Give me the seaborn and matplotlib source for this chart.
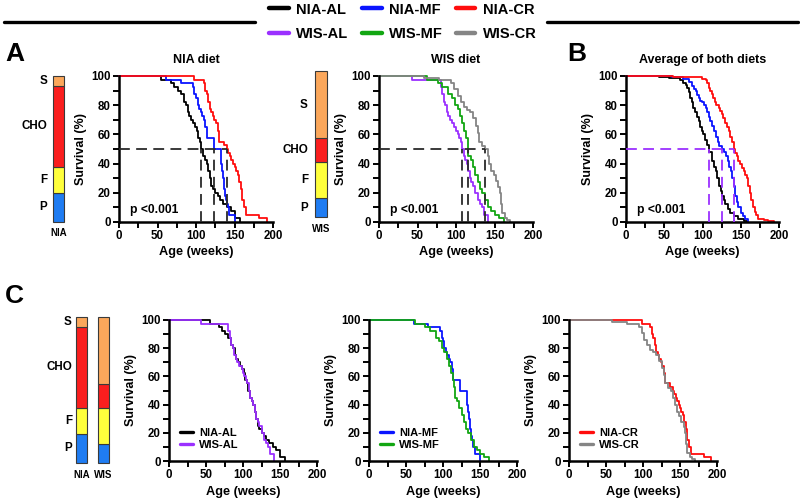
import matplotlib
matplotlib.use("Agg")
import matplotlib.pyplot as plt
import matplotlib.transforms as mtransforms
import numpy as np
import seaborn as sns
from matplotlib.lines import Line2D

# Kaplan-Meier steps: age (weeks) and survival (%)
nia_al_age = [0, 55, 68, 72, 76, 80, 84, 87, 89, 91, 93, 96, 99, 101, 103, 105, 107, 109,
              112, 114, 116, 118, 120, 122, 125, 128, 131, 135, 140, 145, 150, 157]
nia_al_surv = [100, 97.5, 95, 92.5, 90, 87.5, 82.5, 80, 75, 72.5, 70, 67.5, 65, 62.5, 57.5,
               55, 50, 45, 42.5, 40, 35, 30, 25, 22.5, 20, 17.5, 15, 12.5, 10, 7.5, 2.5, 0]

nia_mf_age = [0, 61, 80, 96, 98, 100, 102, 104, 106, 108, 110, 112, 114, 123, 133, 134, 135,
              136, 137, 138, 139, 140, 141, 143, 150]
nia_mf_surv = [100, 97.5, 95, 92.5, 87.5, 85, 80, 77.5, 75, 72.5, 70, 65, 57.5, 50, 40, 35,
               30, 25, 22.5, 17.5, 15, 12.5, 10, 5, 0]

nia_cr_age = [0, 98, 110, 112, 114, 116, 118, 120, 122, 124, 126, 128, 130, 136, 140, 142,
              144, 146, 148, 150, 152, 154, 156, 158, 160, 162, 165, 182, 192]
nia_cr_surv = [100, 97.5, 95, 90, 87.5, 82.5, 77.5, 75, 72.5, 70, 67.5, 62.5, 55, 52.5, 50,
               47.5, 45, 42.5, 40, 37.5, 35, 32.5, 27.5, 22.5, 15, 10, 5, 2.5, 0]

wis_al_age = [0, 43, 80, 82, 84, 86, 88, 90, 92, 95, 98, 100, 102, 104, 106, 108, 110, 112,
              114, 116, 118, 120, 122, 125, 128, 131, 134, 137, 142]
wis_al_surv = [100, 97.5, 92.5, 87.5, 82.5, 80, 75, 72.5, 70, 67.5, 65, 62.5, 60, 57.5, 55,
               50, 45, 42.5, 40, 35, 30, 27.5, 25, 20, 15, 12.5, 10, 5, 0]

wis_mf_age = [0, 62, 76, 82, 90, 95, 99, 102, 105, 108, 111, 113, 115, 116, 119, 122, 125,
              128, 131, 134, 138, 142, 146, 150, 156, 162]
wis_mf_surv = [100, 97.5, 95, 92.5, 87.5, 85, 80, 77.5, 72.5, 67.5, 62.5, 57.5, 52.5, 45,
               42.5, 37.5, 32.5, 27.5, 22.5, 20, 15, 10, 7.5, 5, 2.5, 0]

wis_cr_age = [0, 58, 78, 94, 98, 102, 106, 110, 114, 118, 122, 126, 128, 130, 134, 138, 141,
              143, 146, 149, 152, 155, 157, 158, 160, 163, 166, 170]
wis_cr_surv = [100, 98.5, 97, 95, 91, 86, 82, 79, 77, 75, 71, 66, 61, 55, 52, 50, 45, 40, 35,
               32, 28, 24, 20, 12, 6, 3, 1.5, 0]

# both diets pooled (panel B)
avg_al_age = [0, 43, 56, 71, 75, 78, 80, 82, 84, 86, 88, 90, 93, 95, 97, 99, 101, 103, 106,
              109, 112, 115, 117, 119, 121, 124, 126, 128, 130, 133, 136, 141, 147, 154, 158]
avg_al_surv = [100, 99, 98.5, 97, 95, 93.5, 92, 89, 85, 82, 78, 75, 72, 69, 65, 62.5, 60, 56,
               53, 48, 42, 38, 35, 30, 25, 21, 18, 15, 12, 9, 6, 4, 2, 1, 0]

avg_mf_age = [0, 60, 75, 82, 86, 89, 91, 93, 95, 97, 99, 102, 104, 106, 108, 110, 112, 115,
              117, 120, 122, 125, 128, 131, 133, 135, 137, 139, 141, 143, 145, 147, 150, 153,
              156, 160]
avg_mf_surv = [100, 99, 98, 96, 93, 91, 90, 87, 85, 83, 82, 80, 78, 75, 72, 69, 66, 62, 58,
               55, 52, 50, 48, 45, 42, 38, 35, 30, 25, 18, 14, 10, 6, 4, 2, 0]

avg_cr_age = [0, 62, 82, 99, 104, 106, 108, 110, 112, 114, 116, 118, 121, 123, 125, 127, 130,
              132, 134, 136, 138, 141, 143, 145, 147, 149, 151, 154, 156, 158, 160, 162, 164,
              166, 168, 170, 173, 180, 186, 193]
avg_cr_surv = [100, 99.5, 99, 98, 97, 95, 92, 90, 88, 85, 82, 80, 78, 76, 74, 71, 68, 65, 62,
               58, 55, 50, 47, 45, 42, 40, 37, 35, 32, 30, 25, 20, 15, 10, 7, 5, 2, 1.5, 1, 0]

# diet composition (% of content): protein, fat, carbohydrate, sucrose
macro_names = ["P", "F", "CHO", "S"]
nia_comp = [20, 18, 55, 7]
wis_comp = [13, 25, 16, 46]

macro_colors = ["#1f7cf2", "#ffff3c", "#fa1e1e", "#fba75b"]
col = {"NIA-AL": "#000000", "NIA-MF": "#0a14ff", "NIA-CR": "#ff0d0d",
       "WIS-AL": "#9b30ff", "WIS-MF": "#12a612", "WIS-CR": "#858585"}

sns.set_style("ticks")
plt.rcParams["font.family"] = ["Liberation Sans", "DejaVu Sans"]
plt.rcParams["font.weight"] = "bold"
plt.rcParams["axes.labelweight"] = "bold"
plt.rcParams["axes.titleweight"] = "bold"
plt.rcParams["text.color"] = "black"
plt.rcParams["axes.labelcolor"] = "black"
plt.rcParams["xtick.color"] = "black"
plt.rcParams["ytick.color"] = "black"

W, H = 800, 500
fig = plt.figure(figsize=(8, 5), dpi=100)


def px_axes(x, y, w, h):
    return fig.add_axes([x / W, 1 - (y + h) / H, w / W, h / H])


def style_surv(ax):
    ax.set_xlim(0, 200)
    ax.set_ylim(0, 100)
    ax.set_xticks(range(0, 201, 50))
    ax.set_xticks(range(25, 200, 50), minor=True)
    ax.set_yticks(range(0, 101, 20))
    ax.set_yticks(range(10, 100, 20), minor=True)
    ax.tick_params(which="both", direction="out", length=4, width=1.4,
                   labelsize=8.3, pad=2)
    sns.despine(ax=ax)
    for s in ["left", "bottom"]:
        ax.spines[s].set_linewidth(1.8)
        ax.spines[s].set_color("black")
    ax.set_xlabel("Age (weeks)", fontsize=9.2, labelpad=3)
    ax.set_ylabel("Survival (%)", fontsize=9, labelpad=3)


def km(ax, age, surv, name):
    sns.lineplot(x=age, y=surv, ax=ax, color=col[name], lw=1.3, estimator=None,
                 sort=False, drawstyle="steps-post", legend=False, clip_on=False)


def median_age(age, surv):
    return np.asarray(age)[np.argmax(np.asarray(surv) <= 50)]


def medians(ax, curves, color):
    meds = [median_age(a, s) for a, s in curves]
    kw = dict(color=color, lw=1.3, ls=(0, (6, 3.5)), zorder=3)
    ax.plot([0, max(meds)], [50, 50], **kw)
    for m in meds:
        ax.plot([m, m], [0, 50], **kw)


def comp_bars(ax, comps, names, width, label_gap_px, name_gap):
    for i, vals in enumerate(comps):
        bottom = 0
        for v, c in zip(vals, macro_colors):
            ax.bar(i, v, bottom=bottom, width=width, color=c, edgecolor="#3a3a3a",
                   lw=0.8, clip_on=False)
            bottom += v
        ax.text(i, -name_gap, names[i], ha="center", va="top", fontsize=7)
    ax.set_ylim(0, 100)
    ax.set_xlim(-0.5 * width, len(comps) - 1 + 0.5 * width)
    ax.axis("off")
    off = mtransforms.offset_copy(
        mtransforms.blended_transform_factory(ax.transAxes, ax.transData),
        fig=fig, x=-label_gap_px, y=0, units="dots")
    cum = np.cumsum([0] + comps[0])
    for k, lab in enumerate(macro_names):
        ax.text(0, (cum[k] + cum[k + 1]) / 2, lab, transform=off, ha="right",
                va="center", fontsize=8.4)


# ---- panel A ----
ax = px_axes(119, 76, 154, 146)
for a, s, n in [(nia_al_age, nia_al_surv, "NIA-AL"), (nia_mf_age, nia_mf_surv, "NIA-MF"),
                (nia_cr_age, nia_cr_surv, "NIA-CR")]:
    km(ax, a, s, n)
medians(ax, [(nia_al_age, nia_al_surv), (nia_mf_age, nia_mf_surv),
             (nia_cr_age, nia_cr_surv)], "#2a2a2a")
style_surv(ax)
ax.set_title("NIA diet", fontsize=9, pad=9)
ax.text(14, 8, "p <0.001", fontsize=8.7, va="center")

ax = px_axes(379, 76, 154, 146)
for a, s, n in [(wis_al_age, wis_al_surv, "WIS-AL"), (wis_mf_age, wis_mf_surv, "WIS-MF"),
                (wis_cr_age, wis_cr_surv, "WIS-CR")]:
    km(ax, a, s, n)
medians(ax, [(wis_al_age, wis_al_surv), (wis_mf_age, wis_mf_surv),
             (wis_cr_age, wis_cr_surv)], "#2a2a2a")
style_surv(ax)
ax.set_title("WIS diet", fontsize=9, pad=9)
ax.text(14, 8, "p <0.001", fontsize=8.7, va="center")

comp_bars(px_axes(53, 76, 11, 146), [nia_comp], ["NIA"], 1.0, 6, 4)
comp_bars(px_axes(315, 71, 12, 146), [wis_comp], ["WIS"], 1.0, 7, 5)

# ---- panel B ----
ax = px_axes(626, 76, 153, 146)
for a, s, n in [(avg_al_age, avg_al_surv, "NIA-AL"), (avg_mf_age, avg_mf_surv, "NIA-MF"),
                (avg_cr_age, avg_cr_surv, "NIA-CR")]:
    km(ax, a, s, n)
medians(ax, [(avg_al_age, avg_al_surv), (avg_mf_age, avg_mf_surv),
             (avg_cr_age, avg_cr_surv)], "#9b30ff")
style_surv(ax)
ax.set_title("Average of both diets", fontsize=9, pad=9)
ax.text(14, 8, "p <0.001", fontsize=8.7, va="center")

# ---- panel C ----
pairs = [
    ((nia_al_age, nia_al_surv, "NIA-AL"), (wis_al_age, wis_al_surv, "WIS-AL")),
    ((nia_mf_age, nia_mf_surv, "NIA-MF"), (wis_mf_age, wis_mf_surv, "WIS-MF")),
    ((nia_cr_age, nia_cr_surv, "NIA-CR"), (wis_cr_age, wis_cr_surv, "WIS-CR")),
]
for i, pair in enumerate(pairs):
    ax = px_axes(169 + 200 * i, 320, 148, 141)
    for a, s, n in pair:
        km(ax, a, s, n)
    style_surv(ax)
    handles = [Line2D([], [], color=col[n], lw=2.4) for _, _, n in pair]
    ax.legend(handles, [n for _, _, n in pair], loc="center left",
              bbox_to_anchor=(0.075, 0.155), frameon=False, borderpad=0,
              borderaxespad=0, handlelength=1.2, handletextpad=0.5,
              labelspacing=0.15, prop={"weight": "bold", "size": 8})

comp_bars(px_axes(76, 317, 33, 146), [nia_comp, wis_comp], ["NIA", "WIS"], 0.51, 4, 5)

# ---- panel letters ----
for x, y, t in [(5, 54, "A"), (567, 54, "B"), (5, 296, "C")]:
    fig.text(x / W, 1 - y / H, t, fontsize=19, fontweight="heavy", va="center")

# ---- shared legend with side rules ----
names = ["NIA-AL", "WIS-AL", "NIA-MF", "WIS-MF", "NIA-CR", "WIS-CR"]
fig.legend([Line2D([], [], color=col[n], lw=3.2) for n in names], names,
           ncol=3, loc="center", bbox_to_anchor=(403 / W, 1 - 22 / H), frameon=False,
           handlelength=1.35, handletextpad=0.5, columnspacing=0.9, labelspacing=0.75,
           borderpad=0, prop={"weight": "bold", "size": 10.5})
for x0, x1 in [(4, 255), (547, 798)]:
    fig.add_artist(Line2D([x0 / W, x1 / W], [1 - 22 / H] * 2, color="black", lw=2.4,
                          transform=fig.transFigure))

fig.savefig("out.png", dpi=100)
